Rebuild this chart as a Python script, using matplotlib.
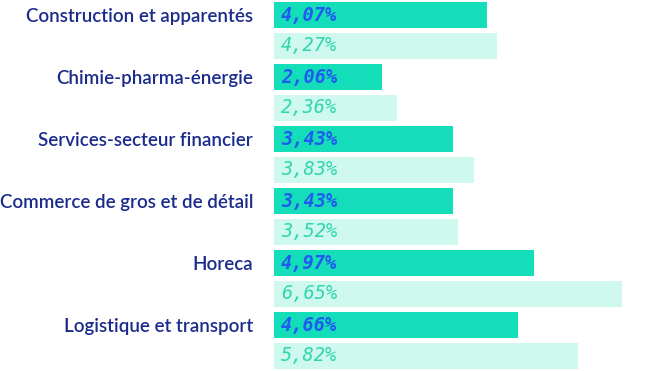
import matplotlib
matplotlib.use("Agg")
import matplotlib.pyplot as plt

categories = ["Construction et apparentés", "Chimie-pharma-énergie",
              "Services-secteur financier", "Commerce de gros et de détail",
              "Horeca", "Logistique et transport"]
series_a = [4.07, 2.06, 3.43, 3.43, 4.97, 4.66]
series_b = [4.27, 2.36, 3.83, 3.52, 6.65, 5.82]

dark_bar = "#14DEB9"
light_bar = "#CFF8EF"
dark_txt = "#1F5BEF"
light_txt = "#2ED6AC"
label_col = "#1B2B8C"

fig = plt.figure(figsize=(6.6, 3.71), dpi=100)
ax = fig.add_axes([274/660, 0, 386/660, 1])
step = 31.0
px_per_unit = 52.3
ax.set_xlim(0, 386/px_per_unit)
ax.set_ylim((371-15)/step, -15/step)

for i, (a, b) in enumerate(zip(series_a, series_b)):
    ya, yb = 2*i, 2*i+1
    ax.barh(ya, a, height=26/step, color=dark_bar, left=0)
    ax.barh(yb, b, height=26/step, color=light_bar, left=0)
    ax.annotate(f"{a:.2f}%".replace(".", ","), (0, ya), xytext=(5, 0),
                textcoords="offset points", va="center", ha="left",
                fontsize=13.4, color=dark_txt, family="DejaVu Sans Mono",
                style="italic", weight="bold")
    ax.annotate(f"{b:.2f}%".replace(".", ","), (0, yb), xytext=(5, 0),
                textcoords="offset points", va="center", ha="left",
                fontsize=13.4, color=light_txt, family="DejaVu Sans Mono",
                style="italic")

ax.set_yticks([2*i for i in range(len(categories))])
ax.set_yticklabels(categories, fontsize=13.5, color=label_col,
                   family="Lato", weight="semibold")
ax.tick_params(axis="y", length=0, pad=15)
ax.tick_params(axis="x", bottom=False, labelbottom=False)
for s in ax.spines.values():
    s.set_visible(False)

fig.savefig("out.png", dpi=100)
